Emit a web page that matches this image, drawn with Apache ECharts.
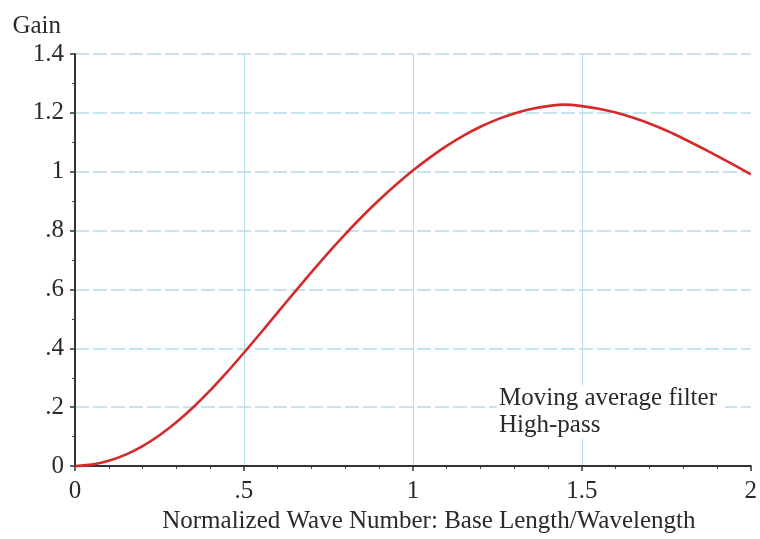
<!DOCTYPE html>
<html>
<head>
<meta charset="utf-8">
<script src="https://cdn.jsdelivr.net/npm/echarts@6/dist/echarts.min.js"></script>
<style>
  html, body { margin: 0; padding: 0; background: #fff; }
  #chart { width: 760px; height: 539px; }
</style>
</head>
<body>
<div id="chart"></div>
<script>
// Normalized wave number (base length / wavelength)
const waveNumber = [0, 0.05, 0.1, 0.15, 0.2, 0.25, 0.3, 0.35, 0.4, 0.45,
  0.5, 0.55, 0.6, 0.65, 0.7, 0.75, 0.8, 0.85, 0.9, 0.95,
  1.0, 1.05, 1.1, 1.15, 1.2, 1.25, 1.3, 1.35, 1.4, 1.45,
  1.5, 1.55, 1.6, 1.65, 1.7, 1.75, 1.8, 1.85, 1.9, 1.95, 2.0];

// High-pass gain of the moving average filter
const gain = [0, 0.005, 0.018, 0.039, 0.068, 0.105, 0.149, 0.200, 0.257, 0.319,
  0.385, 0.453, 0.522, 0.591, 0.659, 0.725, 0.788, 0.848, 0.904, 0.956,
  1.004, 1.048, 1.088, 1.123, 1.153, 1.178, 1.198, 1.213, 1.223, 1.228,
  1.223, 1.214, 1.201, 1.184, 1.164, 1.140, 1.113, 1.084, 1.054, 1.023, 0.991];

// Tick label text, keyed by value
const xTickLabels = { '0': '0', '0.5': '.5', '1': '1', '1.5': '1.5', '2': '2' };
const yTickLabels = { '0': '0', '0.2': '.2', '0.4': '.4', '0.6': '.6', '0.8': '.8',
  '1': '1', '1.2': '1.2', '1.4': '1.4' };

const annotationLines = ['Moving average filter', 'High-pass'];

const FONT = 'Liberation Serif';
const FS = 25;
const TEXT = '#2a2a2a';
const GRID = '#b3dbe9';

const chart = echarts.init(document.getElementById('chart'), null, { renderer: 'canvas' });

const fmt = (map) => (v) => {
  const k = String(Math.round(v * 10) / 10);
  return map[k] !== undefined ? map[k] : '';
};

chart.setOption({
  animation: false,
  backgroundColor: '#fff',
  grid: { left: 75, right: 5, top: 54, bottom: 69, containLabel: false },
  xAxis: {
    type: 'value',
    min: 0, max: 2, interval: 0.5,
    name: 'Normalized Wave Number: Base Length/Wavelength',
    nameLocation: 'middle',
    nameGap: 42,
    nameTextStyle: { fontFamily: FONT, fontSize: FS, color: TEXT, padding: [0, 0, 0, 32] },
    axisLine: { show: true, onZero: false, lineStyle: { color: '#333', width: 2 } },
    axisTick: { show: true, length: 5, lineStyle: { color: '#333', width: 1.5 } },
    minorTick: { show: true, splitNumber: 5, length: 3, lineStyle: { color: '#444', width: 1 } },
    axisLabel: { fontFamily: FONT, fontSize: FS, color: TEXT, margin: 13, formatter: fmt(xTickLabels) },
    splitLine: { show: true, showMinLine: false, showMaxLine: false,
      lineStyle: { color: GRID, width: 1, type: 'solid' } }
  },
  yAxis: {
    type: 'value',
    min: 0, max: 1.4, interval: 0.2,
    name: 'Gain',
    nameLocation: 'end',
    nameGap: 15,
    nameTextStyle: { fontFamily: FONT, fontSize: FS, color: TEXT, align: 'right', padding: [0, 14, 0, 0] },
    axisLine: { show: true, onZero: false, lineStyle: { color: '#333', width: 2 } },
    axisTick: { show: true, length: 5, lineStyle: { color: '#333', width: 1.5 } },
    minorTick: { show: true, splitNumber: 2, length: 3, lineStyle: { color: '#444', width: 1 } },
    axisLabel: { fontFamily: FONT, fontSize: FS, color: TEXT, margin: 11, formatter: fmt(yTickLabels) },
    splitLine: { show: true, lineStyle: { color: GRID, width: 1.5, type: [14, 4] } }
  },
  series: [{
    type: 'line',
    data: waveNumber.map((x, i) => [x, gain[i]]),
    showSymbol: false,
    smooth: 0.2,
    clip: false,
    lineStyle: { color: '#d42a2a', width: 2.6 },
    z: 5
  }],
  graphic: [{
    type: 'text',
    left: 497,
    top: 385,
    z: 10,
    style: {
      text: annotationLines.join('\n'),
      font: FS + 'px "' + FONT + '"',
      fill: TEXT,
      lineHeight: 27,
      backgroundColor: '#fff',
      padding: [0, 8, 0, 2]
    }
  }]
});
</script>
</body>
</html>
